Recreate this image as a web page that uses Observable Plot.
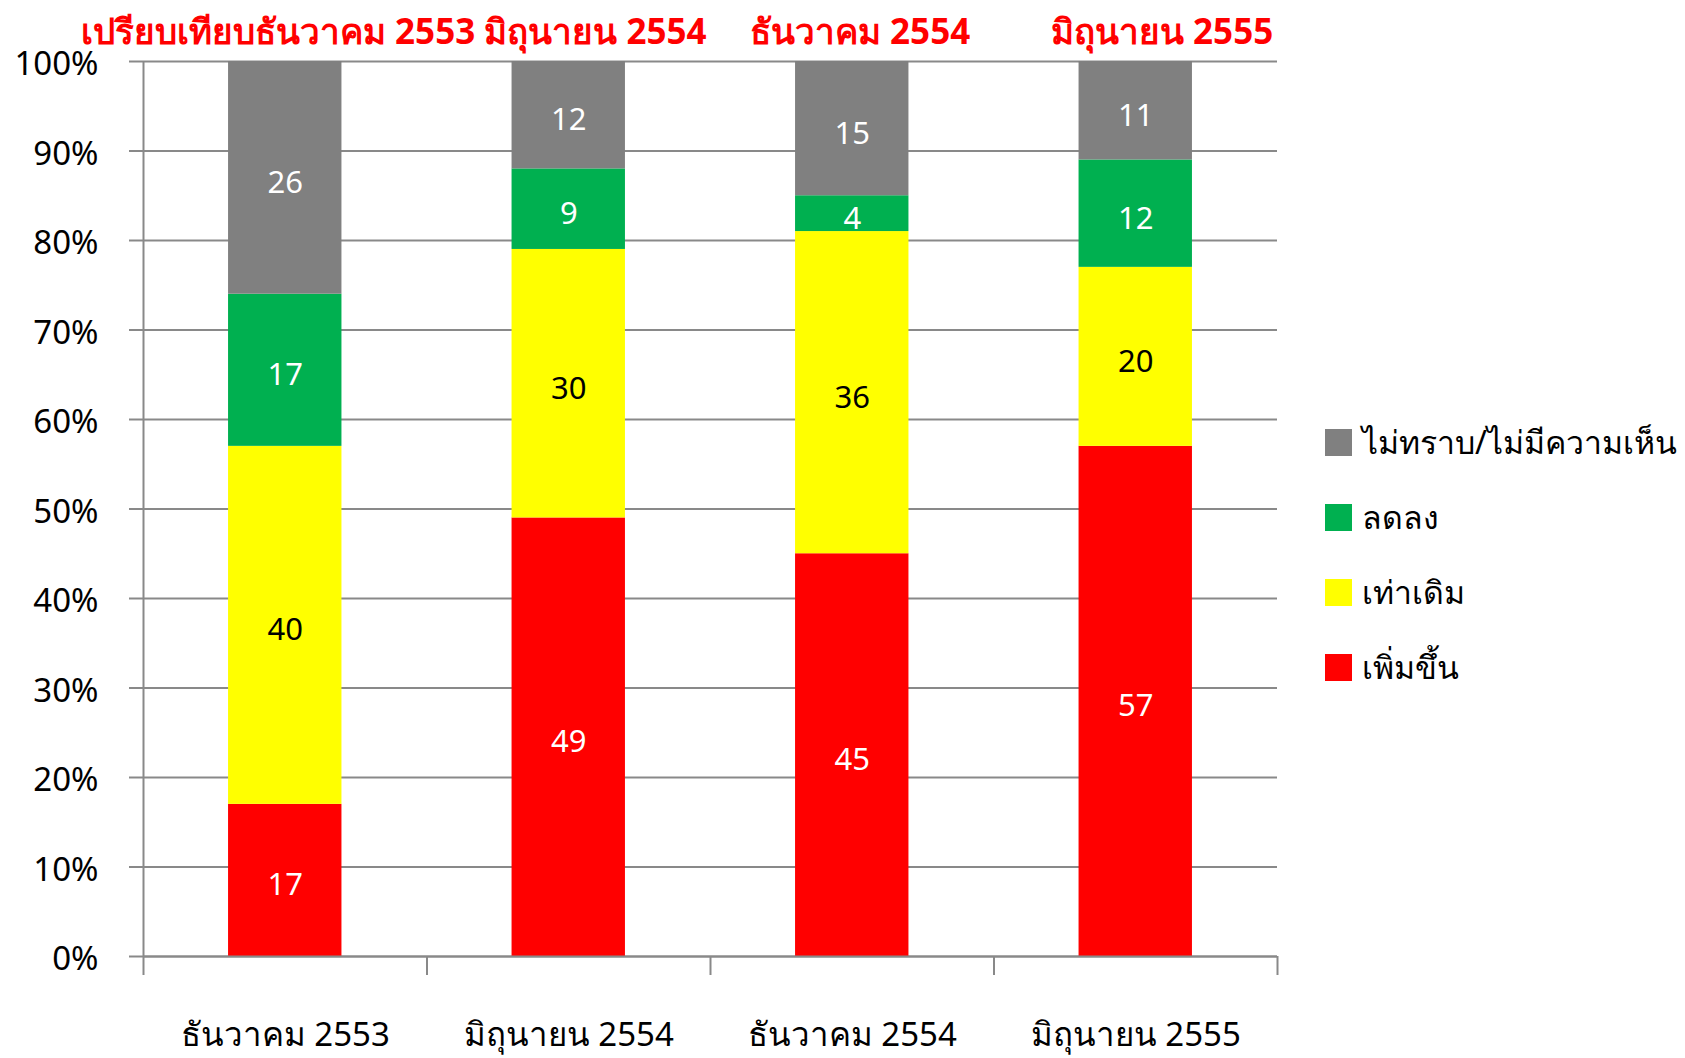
<!DOCTYPE html>
<html>
<head>
<meta charset="utf-8">
<script src="https://cdn.jsdelivr.net/npm/d3@7"></script>
<script src="https://cdn.jsdelivr.net/npm/@observablehq/plot@0.6"></script>
<style>
  html, body { margin: 0; padding: 0; background: #fff; }
  body { width: 1685px; height: 1058px; position: relative; overflow: hidden;
         font-family: "Noto Sans", "DejaVu Sans", sans-serif; }
  #chart { position: absolute; left: 0; top: 0; }
  .title { position: absolute; top: 10px; color: #FF0000; font-weight: bold; font-size: 35px;
           white-space: nowrap; line-height: 1.2; }
  #legend { position: absolute; left: 1325px; top: 405px; }
  .li { display: flex; align-items: center; height: 75px; font-size: 32px; color: #000; white-space: nowrap; }
  .sw { width: 27px; height: 27px; margin-right: 10px; flex: none; }
</style>
</head>
<body>
<div id="chart"></div>
<div id="titles"></div>
<div id="legend"></div>
<script>
const categories = ["ธันวาคม 2553", "มิถุนายน 2554", "ธันวาคม 2554", "มิถุนายน 2555"];
const seriesNames = ["เพิ่มขึ้น", "เท่าเดิม", "ลดลง", "ไม่ทราบ/ไม่มีความเห็น"];
const seriesColors = ["#FF0000", "#FFFF00", "#00B050", "#808080"];
const increased = [17, 49, 45, 57];
const unchanged = [40, 30, 36, 20];
const decreased = [17, 9, 4, 12];
const unknown = [26, 12, 15, 11];
const yTicks = [0, 10, 20, 30, 40, 50, 60, 70, 80, 90, 100];
const titleParts = ["เปรียบเทียบธันวาคม 2553 มิถุนายน 2554", "ธันวาคม 2554", "มิถุนายน 2555"];
const titleLefts = [81, 750, 1051];

const seriesValues = [increased, unchanged, decreased, unknown];
const rows = [];
categories.forEach((cat, i) => {
  seriesNames.forEach((s, k) => {
    rows.push({i, cat, series: s, value: seriesValues[k][i]});
  });
});
const boundaries = d3.range(categories.length + 1);
const centers = categories.map((c, i) => i + 0.5);
const axisColor = "#898989";
const labelOpts = {x: d => d.i + 0.5, y: "value", z: "series", text: d => String(d.value), fontSize: 31, dy: 5};

const chart = Plot.plot({
  width: 1685,
  height: 1058,
  marginLeft: 143,
  marginRight: 408,
  marginTop: 61,
  marginBottom: 102,
  style: {fontFamily: "'Noto Sans', 'DejaVu Sans', sans-serif", background: "white", overflow: "visible"},
  x: {domain: [0, categories.length], axis: null},
  y: {domain: [0, 100], axis: null},
  color: {domain: seriesNames, range: seriesColors},
  marks: [
    Plot.gridY(yTicks, {stroke: axisColor, strokeOpacity: 1, strokeWidth: 2}),
    Plot.rectY(rows, {x1: d => d.i + 0.3, x2: d => d.i + 0.7, y: "value", fill: "series"}),
    Plot.axisY(yTicks, {tickSize: 14, tickFormat: () => "", label: null, stroke: axisColor, strokeWidth: 2, strokeOpacity: 1}),
    Plot.axisY(yTicks, {tickSize: 0, tickPadding: 45, tickFormat: d => d + "%", label: null, fontSize: 33, fill: "#000", dy: 3}),
    Plot.ruleX([0], {stroke: axisColor, strokeWidth: 2}),
    Plot.ruleY([0], {stroke: axisColor, strokeWidth: 2}),
    Plot.axisX(boundaries, {tickSize: 19, tickFormat: () => "", label: null, stroke: axisColor, strokeWidth: 2, strokeOpacity: 1}),
    Plot.axisX(centers, {tickSize: 0, tickPadding: 66, tickFormat: d => categories[Math.floor(d)], label: null, fontSize: 33, fill: "#000"}),
    Plot.text(rows, Plot.filter(d => d.series !== seriesNames[1], Plot.stackY({...labelOpts, fill: "white"}))),
    Plot.text(rows, Plot.filter(d => d.series === seriesNames[1], Plot.stackY({...labelOpts, fill: "black"})))
  ]
});
document.getElementById("chart").appendChild(chart);

const titles = document.getElementById("titles");
titleParts.forEach((t, k) => {
  const div = document.createElement("div");
  div.className = "title";
  div.style.left = titleLefts[k] + "px";
  div.textContent = t;
  titles.appendChild(div);
});

const legend = document.getElementById("legend");
seriesNames.map((s, k) => ({s, c: seriesColors[k]})).reverse().forEach(({s, c}) => {
  const li = document.createElement("div");
  li.className = "li";
  const sw = document.createElement("div");
  sw.className = "sw";
  sw.style.background = c;
  const tx = document.createElement("span");
  tx.textContent = s;
  li.appendChild(sw);
  li.appendChild(tx);
  legend.appendChild(li);
});
</script>
</body>
</html>
